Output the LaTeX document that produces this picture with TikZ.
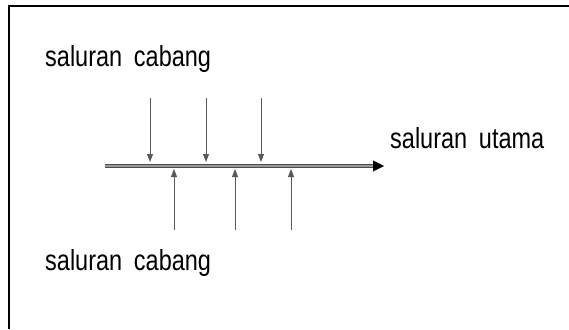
\documentclass[tikz,border=0pt]{standalone}
\usepackage{graphicx}
\usepackage{fontspec}
\setmainfont{Liberation Sans}
\usetikzlibrary{arrows.meta}
\newcommand{\narrowtxt}[2]{\scalebox{0.81}[1]{#1\hspace{14.5pt}#2}}
\begin{document}
\begin{tikzpicture}[x=1pt,y=-1pt,
  lbl/.style={anchor=base west,inner sep=0pt,font=\fontsize{29}{31}\selectfont,text=black},
  branch/.style={draw=black!65,line width=0.9pt,-{Triangle[length=8pt,width=6pt]}},
  frameline/.style={draw=black,line width=2pt}]
\useasboundingbox (0,0) rectangle (569,329);
% frame (only top and left edges visible)
\coordinate (fl) at (8.5,329);
\coordinate (ftl) at (8.5,6.5);
\coordinate (fr) at (569,6.5);
\draw[frameline] (fl) -- (ftl) -- (fr);
% labels
\node[lbl] (top) at (45,66) {\narrowtxt{saluran}{cabang}};
\node[lbl] (bot) at (45,270) {\narrowtxt{saluran}{cabang}};
\node[lbl] (main) at (390,148) {\narrowtxt{saluran}{utama}};
% main channel
\coordinate (m0) at (105,166);
\coordinate (m1) at (374,166);
\coordinate (mt) at (384,166);
\draw[draw=black!70,line width=1.3pt,double=black!40,double distance=1.2pt] (m0) -- (m1);
\fill[black] (mt) -- (373,160.5) -- (373,171.5) -- cycle;
% top branches
\coordinate (t1a) at (150,98);  \coordinate (t1b) at (150,162);
\coordinate (t2a) at (206,98);  \coordinate (t2b) at (206,162);
\coordinate (t3a) at (261,98);  \coordinate (t3b) at (261,162);
\draw[branch] (t1a) -- (t1b);
\draw[branch] (t2a) -- (t2b);
\draw[branch] (t3a) -- (t3b);
% bottom branches
\coordinate (b1a) at (174,230); \coordinate (b1b) at (174,169);
\coordinate (b2a) at (235,230); \coordinate (b2b) at (235,169);
\coordinate (b3a) at (291,230); \coordinate (b3b) at (291,169);
\draw[branch] (b1a) -- (b1b);
\draw[branch] (b2a) -- (b2b);
\draw[branch] (b3a) -- (b3b);
\end{tikzpicture}
\end{document}
